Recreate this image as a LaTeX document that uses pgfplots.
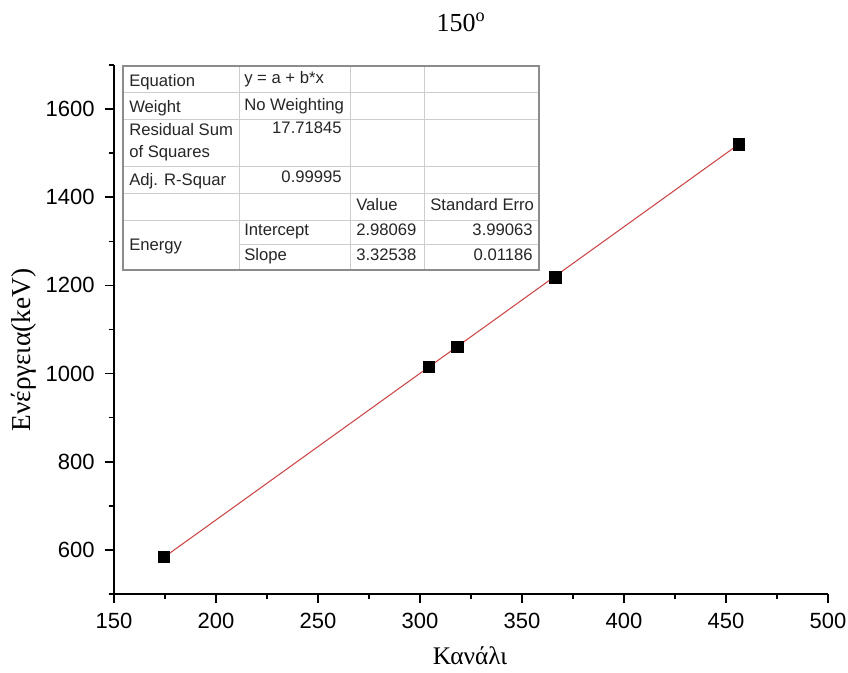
\documentclass[border=0pt]{standalone}
\usepackage{pgfplots}
\pgfplotsset{compat=1.18}
\usepackage{fontspec}
\setmainfont{Liberation Serif}
\newfontfamily\arial{Liberation Sans}

\definecolor{fitred}{RGB}{204,72,72}
\definecolor{gridouter}{RGB}{140,140,140}
\definecolor{gridinner}{RGB}{205,205,205}

\begin{document}
\begin{tikzpicture}
\begin{axis}[
  scale only axis,
  width=535.5pt, height=396.75pt,
  xmin=150, xmax=500, ymin=500, ymax=1700,
  axis x line*=bottom, axis y line*=left,
  axis line style={line width=1.4pt,-},
  xtick={150,200,...,500}, ytick={600,800,...,1600},
  minor xtick={175,225,...,475}, minor ytick={500,700,...,1700},
  tick align=outside,
  major tick length=7pt, minor tick length=4pt,
  every tick/.style={black, line width=1.2pt},
  ticklabel style={font=\arial\fontsize{16.5}{19}\selectfont},
  yticklabel style={xshift=-4pt},
  xticklabel style={yshift=-3.5pt},
  /pgf/number format/assume math mode=true,
  /pgf/number format/set thousands separator={},
  xlabel={Κανάλι}, ylabel={Ενέργεια(keV)},
  xlabel style={font=\fontsize{19}{22}\selectfont, at={(axis description cs:0.4986,-0.117)}, anchor=center},
  ylabel style={font=\fontsize{20.5}{23}\selectfont, at={(axis description cs:-0.126,0.461)}, anchor=center},
  title={150\textsuperscript{o}},
  title style={font=\fontsize{19.5}{22}\selectfont, at={(axis description cs:0.486,1.066)}, anchor=center},
  clip=false,
]
\coordinate (tl) at (rel axis cs:0,1);

% linear fit y = a + b*x over the measured channel range
\addplot[fitred, line width=0.8pt] coordinates {(174.5,583.27) (456.2,1520.00)};

% measured peaks
\addplot[only marks, mark=square*, mark size=4.3pt, mark options={fill=black, draw=black}]
  coordinates {
    (174.5, 584)
    (304.3, 1015)
    (318.2, 1061)
    (366.2, 1219)
    (456.2, 1520)
  };
\end{axis}

% fit results table
\begin{scope}[shift={(tl)}, x=0.75pt, y=-0.75pt,
    every node/.style={font=\arial\fontsize{12.5}{14}\selectfont, text=black!85, inner sep=0pt}]
  \fill[white] (9,1) rectangle (425,205);
  \draw[gridinner, line width=0.75pt]
    (9,28) -- (425,28)
    (9,55) -- (425,55)
    (9,102) -- (425,102)
    (9,128) -- (425,128)
    (9,155) -- (425,155)
    (125,179) -- (425,179)
    (125,1) -- (125,205)
    (236,1) -- (236,205)
    (310,1) -- (310,205);
  \draw[gridouter, line width=1pt] (9,1) rectangle (425,205);

  \node[anchor=base west] at (15,21.7) {Equation};
  \node[anchor=base west] at (130,19) {y = a + b*x};
  \node[anchor=base west] at (15,47.7) {Weight};
  \node[anchor=base west] at (130,45.7) {No Weighting};
  \node[anchor=base west] at (15,71) {Residual Sum};
  \node[anchor=base west] at (15,93) {of Squares};
  \node[anchor=base east] at (228,69) {17.71845};
  \node[anchor=base west] at (15,120) {Adj. R-Squar};
  \node[anchor=base east] at (228,117.7) {0.99995};
  \node[anchor=base west] at (242,145) {Value};
  \node[anchor=base west] at (316,145) {Standard Erro};
  \node[anchor=base west] at (15,185) {Energy};
  \node[anchor=base west] at (130,170) {Intercept};
  \node[anchor=base west] at (242,170) {2.98069};
  \node[anchor=base east] at (419,170) {3.99063};
  \node[anchor=base west] at (130,195.7) {Slope};
  \node[anchor=base west] at (242,195.7) {3.32538};
  \node[anchor=base east] at (419,195.7) {0.01186};
\end{scope}

\pgfresetboundingbox
\path ([shift={(-85.5pt,48.75pt)}]tl) rectangle ([shift={(550.5pt,-455.25pt)}]tl);
\end{tikzpicture}
\end{document}
